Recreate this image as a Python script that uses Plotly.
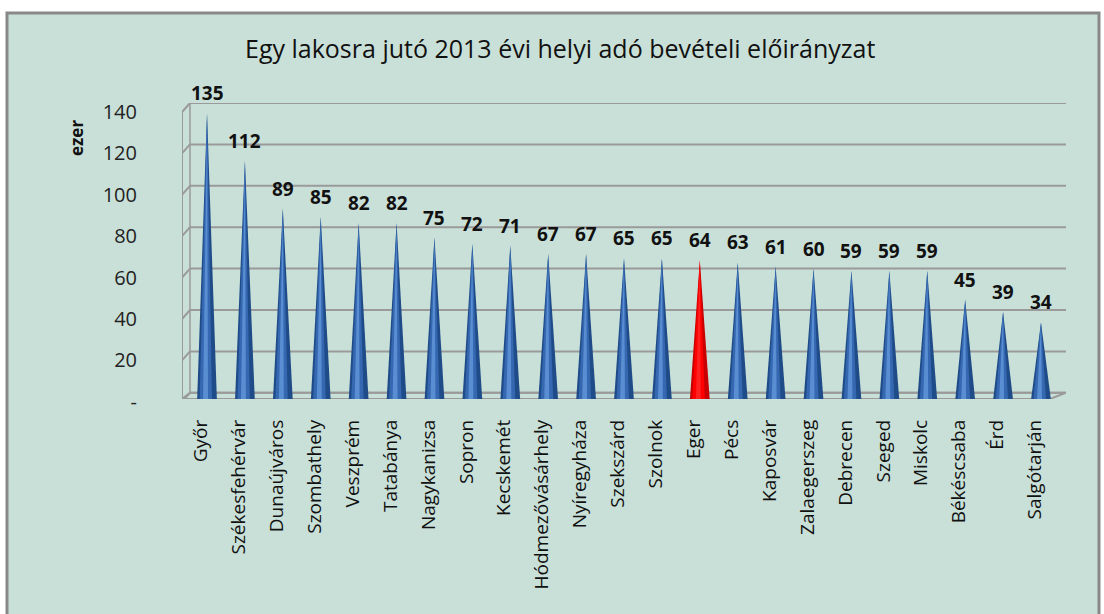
import plotly.graph_objects as go

cities = ["Győr", "Székesfehérvár", "Dunaújváros", "Szombathely", "Veszprém", "Tatabánya",
          "Nagykanizsa", "Sopron", "Kecskemét", "Hódmezővásárhely", "Nyíregyháza", "Szekszárd",
          "Szolnok", "Eger", "Pécs", "Kaposvár", "Zalaegerszeg", "Debrecen", "Szeged",
          "Miskolc", "Békéscsaba", "Érd", "Salgótarján"]
values = [135, 112, 89, 85, 82, 82, 75, 72, 71, 67, 67, 65, 65, 64, 63, 61, 60, 59, 59, 59, 45, 39, 34]
highlight = "Eger"
y_ticks = [0, 20, 40, 60, 80, 100, 120, 140]
y_tick_text = ["-", "20", "40", "60", "80", "100", "120", "140"]

BG = "#c9e0d8"
GRID = "#9a9a9a"
HW = 0.26  # cone half-width in category units

W, H = 1104, 614
L, R, T, B = 182, 38, 103, 215
X0, X1 = -0.66, 22.66
Y0, Y1 = -3, 140
pw, ph = W - L - R, H - T - B
ux = pw / (X1 - X0)      # px per category unit
uy = ph / (Y1 - Y0)      # px per value unit

fig = go.Figure()
shapes = []
annotations = []

# back wall gridlines and left-wall stubs
for t in y_ticks:
    shapes.append(dict(type="line", xref="x", yref="y", x0=X0 + 8 / ux, x1=X1, y0=t, y1=t,
                       line=dict(color=GRID, width=2), layer="below"))
    shapes.append(dict(type="line", xref="x", yref="y", x0=X0, x1=X0 + 8 / ux,
                       y0=t - 9 / uy, y1=t, line=dict(color=GRID, width=2), layer="below"))
# left wall vertical edges
shapes.append(dict(type="line", xref="x", yref="y", x0=X0, x1=X0, y0=Y0, y1=140 - 9 / uy,
                   line=dict(color=GRID, width=2), layer="below"))
shapes.append(dict(type="line", xref="x", yref="y", x0=X0 + 8 / ux, x1=X0 + 8 / ux, y0=0, y1=140,
                   line=dict(color=GRID, width=1.5), layer="below"))
# floor outline
shapes.append(dict(type="path", xref="x", yref="y",
                   path=f"M {X0},{Y0} L {X1 - 16 / ux},{Y0} L {X1},{0} L {X0 + 8 / ux},{0} Z",
                   line=dict(color=GRID, width=2), layer="below"))

for i, (c, v) in enumerate(zip(cities, values)):
    red = (c == highlight)
    dark = "#c80000" if red else "#1f4c88"
    mid = "#ff0000" if red else "#3568b0"
    light = "#ff2020" if red else "#5a8ed2"
    fig.add_trace(go.Scatter(x=[i - HW, i, i + HW, i - HW], y=[Y0, v, Y0, Y0], fill="toself",
                             fillcolor=dark, line=dict(width=0), mode="lines",
                             hoverinfo="skip", showlegend=False))
    fig.add_trace(go.Scatter(x=[i - HW * 0.75, i, i + HW * 0.5, i - HW * 0.75], y=[Y0, v, Y0, Y0],
                             fill="toself", fillcolor=mid, line=dict(width=0), mode="lines",
                             hoverinfo="skip", showlegend=False))
    fig.add_trace(go.Scatter(x=[i - HW * 0.4, i, i + HW * 0.1, i - HW * 0.4], y=[Y0, v * 0.96, Y0, Y0],
                             fill="toself", fillcolor=light, line=dict(width=0), mode="lines",
                             hoverinfo="skip", showlegend=False))
    annotations.append(dict(x=i, y=v, xref="x", yref="y", text=f"<b>{v}</b>", showarrow=False,
                            yshift=20, font=dict(family="Open Sans", size=19, color="#111111")))

# outer chart frame
shapes.append(dict(type="rect", xref="paper", yref="paper",
                   x0=(7 - L) / pw, x1=(1099 - L) / pw, y0=-(H + 10 - T - ph) / ph, y1=(T + ph - 13) / ph,
                   fillcolor=BG, line=dict(color="#888888", width=3), layer="below"))

annotations.append(dict(text="Egy lakosra jutó 2013 évi helyi adó bevételi előirányzat",
                        xref="paper", yref="paper", x=(560 - L) / pw, y=(T + ph - 48) / ph,
                        showarrow=False, xanchor="center", yanchor="middle",
                        font=dict(family="Open Sans", size=25, color="#111111")))
annotations.append(dict(text="<b>ezer</b>", xref="paper", yref="paper", x=(76 - L) / pw,
                        y=(T + ph - 138) / ph, textangle=-90, xanchor="center", yanchor="middle",
                        showarrow=False, font=dict(family="Open Sans", size=17, color="#111111")))

fig.update_layout(
    width=W, height=H,
    paper_bgcolor="white",
    plot_bgcolor=BG,
    margin=dict(l=L, r=R, t=T, b=B, autoexpand=False),
    showlegend=False,
    xaxis=dict(range=[X0, X1], tickmode="array", tickvals=list(range(len(cities))),
               ticktext=cities, tickangle=-90, showgrid=False, zeroline=False,
               showline=False, ticks="", ticklabelstandoff=16, ticklabelshift=-6,
               tickfont=dict(family="Open Sans", size=19, color="#111111")),
    yaxis=dict(range=[Y0, Y1], tickmode="array", tickvals=y_ticks, ticktext=y_tick_text,
               showgrid=False, zeroline=False, showline=False,
               ticks="", ticklabelstandoff=44, ticklabelshift=9,
               tickfont=dict(family="Open Sans", size=20, color="#222222")),
    shapes=shapes,
    annotations=annotations,
)

fig.write_html("out.html", config={"displayModeBar": False},
               post_script="document.body.style.margin='0';")
